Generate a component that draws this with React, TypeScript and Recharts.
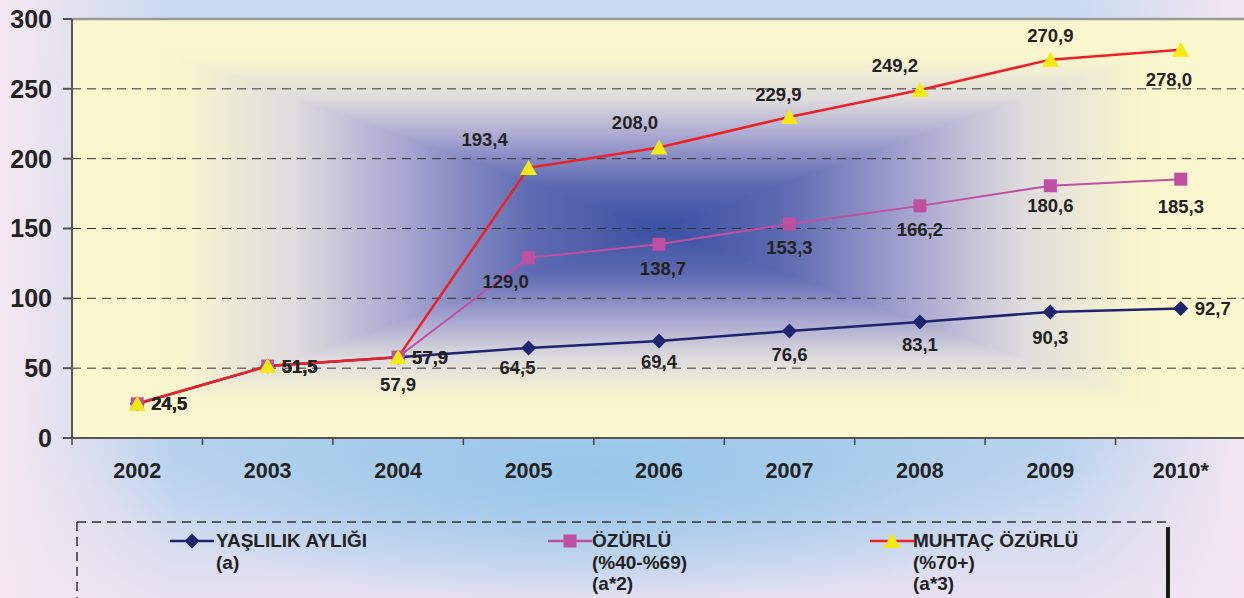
import { LineChart, Line, XAxis, YAxis, CartesianGrid, ReferenceLine, LabelList } from 'recharts';

const YEARS = ['2002', '2003', '2004', '2005', '2006', '2007', '2008', '2009', '2010*'];
const YASLILIK = [24.5, 51.5, 57.9, 64.5, 69.4, 76.6, 83.1, 90.3, 92.7];
const OZURLU = [24.5, 51.5, 57.9, 129.0, 138.7, 153.3, 166.2, 180.6, 185.3];
const MUHTAC = [24.5, 51.5, 57.9, 193.4, 208.0, 229.9, 249.2, 270.9, 278.0];
const Y_TICKS = [0, 50, 100, 150, 200, 250, 300];

// label placement per point: [dx, dy, anchor]
type Lbl = [number, number, 'start' | 'middle'];
const R: Lbl = [14, 0, 'start'];
const YASLILIK_LBL: Lbl[] = [R, R, R, [-11, 20, 'middle'], [0, 20, 'middle'], [0, 23, 'middle'], [0, 23, 'middle'], [0, 26, 'middle'], R];
const OZURLU_LBL: Lbl[] = [R, R, [0, 27, 'middle'], [-23, 24, 'middle'], [4, 24, 'middle'], [0, 24, 'middle'], [0, 24, 'middle'], [0, 20, 'middle'], [0, 27, 'middle']];
const MUHTAC_LBL: Lbl[] = [R, R, R, [-44, -28, 'middle'], [-24, -25, 'middle'], [-11, -22, 'middle'], [-25, -24, 'middle'], [0, -24, 'middle'], [-12, 30, 'middle']];

const data = YEARS.map((year, i) => ({ year, yaslilik: YASLILIK[i], ozurlu: OZURLU[i], muhtac: MUHTAC[i] }));

const CHART_W = 1246;
const CHART_H = 500;
const Y_AXIS_W = 72;
const X_AXIS_H = 62;
const TOP = 19;
const BAND = (CHART_W - Y_AXIS_W) / YEARS.length;

// plot rectangle (for the background fill)
const PL = Y_AXIS_W, PR = CHART_W, PT = TOP, PB = CHART_H - X_AXIS_H;
const CX = (PL + PR) / 2, CY = (PT + PB) / 2;

const NAVY = '#1f2470';
const MAGENTA = '#bf4fa3';
const RED = '#ee2027';
const YELLOW = '#f4e913';
const TEXT = '#222';
const FONT = "'Liberation Sans', Arial, sans-serif";
const NARROW = "'Liberation Sans Narrow', 'Arial Narrow', 'Liberation Sans', sans-serif";

const fmt = (v: number) => v.toFixed(1).replace('.', ',');

const makeLabel = (placement: Lbl[]) => (props: any) => {
  const { x, y, value, index } = props;
  const [dx, dy, anchor] = placement[index];
  return (
    <text x={x + dx} y={y + dy} textAnchor={anchor} dominantBaseline="central"
      fontFamily={FONT} fontWeight="bold" fontSize={18.5} fill={TEXT}>
      {fmt(value)}
    </text>
  );
};

const Diamond = ({ cx, cy }: any) => (
  <polygon points={`${cx},${cy - 7.5} ${cx + 7.5},${cy} ${cx},${cy + 7.5} ${cx - 7.5},${cy}`} fill={NAVY} />
);
const Square = ({ cx, cy }: any) => <rect x={cx - 6.5} y={cy - 6.5} width={13} height={13} fill={MAGENTA} />;
const Triangle = ({ cx, cy }: any) => (
  <polygon points={`${cx},${cy - 8} ${cx + 8.5},${cy + 7} ${cx - 8.5},${cy + 7}`} fill={YELLOW} />
);

const XTick = ({ x, y, payload, index }: any) => (
  <g>
    <line x1={x - BAND / 2} x2={x - BAND / 2} y1={y} y2={y + 7} stroke="#444" strokeWidth={1.5} />
    {index === YEARS.length - 1 && (
      <line x1={x + BAND / 2} x2={x + BAND / 2} y1={y} y2={y + 7} stroke="#444" strokeWidth={1.5} />
    )}
    <text x={x} y={y + 33} textAnchor="middle" dominantBaseline="central"
      fontFamily={NARROW} fontWeight="bold" fontSize={21.5} fill={TEXT}>
      {payload.value}
    </text>
  </g>
);

const legendText: React.CSSProperties = {
  position: 'absolute',
  fontFamily: NARROW,
  fontWeight: 'bold',
  fontSize: 19,
  lineHeight: '21.5px',
  color: TEXT,
  whiteSpace: 'nowrap',
};

function LegendIcon({ left, kind }: { left: number; kind: 'd' | 's' | 't' }) {
  const color = kind === 'd' ? NAVY : kind === 's' ? MAGENTA : RED;
  return (
    <svg width={44} height={20} style={{ position: 'absolute', left, top: 531 }}>
      <line x1={0} x2={44} y1={10} y2={10} stroke={color} strokeWidth={2.5} />
      {kind === 'd' && <Diamond cx={22} cy={10} />}
      {kind === 's' && <Square cx={22} cy={10} />}
      {kind === 't' && <Triangle cx={22} cy={10} />}
    </svg>
  );
}

const STOPS: [number, string][] = [
  [0, '#fbf8cf'],
  [0.18, '#f9f6cd'],
  [0.38, '#dedcdd'],
  [0.58, '#a3a2cf'],
  [0.78, '#5f6bb2'],
  [1, '#3a50a2'],
];

const Grad = ({ id, x1, y1, x2, y2 }: any) => (
  <linearGradient id={id} x1={x1} y1={y1} x2={x2} y2={y2}>
    {STOPS.map(([o, c]) => <stop key={o} offset={o} stopColor={c} />)}
  </linearGradient>
);

export default function App() {
  return (
    <div
      style={{
        position: 'relative',
        width: 1244,
        height: 598,
        overflow: 'hidden',
        background:
          'linear-gradient(to right, #f7e8f2 0%, rgba(247,232,242,0) 14%, rgba(247,232,242,0) 86%, #f5e6f2 100%),' +
          'radial-gradient(ellipse 40% 22% at 48% 79%, #98c6ea 0%, rgba(152,198,234,0.6) 50%, rgba(152,198,234,0) 100%),' +
          'linear-gradient(to bottom, #c8daf0 0%, #bcd4ee 75%, #e6e1f1 100%)',
      }}
    >
      <style>{'body{margin:0}'}</style>
      <svg width={0} height={0} style={{ position: 'absolute' }}>
        <defs>
          <Grad id="gTop" x1={0} y1={0} x2={0} y2={1} />
          <Grad id="gBottom" x1={0} y1={1} x2={0} y2={0} />
          <Grad id="gLeft" x1={0} y1={0} x2={1} y2={0} />
          <Grad id="gRight" x1={1} y1={0} x2={0} y2={0} />
          <pattern id="plotBg" patternUnits="userSpaceOnUse" x={0} y={0} width={CHART_W} height={CHART_H}>
            <polygon points={`${PL},${PT} ${PR},${PT} ${CX},${CY}`} fill="url(#gTop)" stroke="url(#gTop)" strokeWidth={1.5} />
            <polygon points={`${PL},${PB} ${PR},${PB} ${CX},${CY}`} fill="url(#gBottom)" stroke="url(#gBottom)" strokeWidth={1.5} />
            <polygon points={`${PL},${PT} ${PL},${PB} ${CX},${CY}`} fill="url(#gLeft)" stroke="url(#gLeft)" strokeWidth={1.5} />
            <polygon points={`${PR},${PT} ${PR},${PB} ${CX},${CY}`} fill="url(#gRight)" stroke="url(#gRight)" strokeWidth={1.5} />
          </pattern>
        </defs>
      </svg>

      <LineChart width={CHART_W} height={CHART_H} data={data} margin={{ top: TOP, right: 0, bottom: 0, left: 0 }}>
        <CartesianGrid vertical={false} stroke="#333" strokeDasharray="9 6" fill="url(#plotBg)" fillOpacity={1} />
        <ReferenceLine y={300} stroke="#9a9a9a" strokeWidth={2.5} />
        <XAxis
          dataKey="year"
          height={X_AXIS_H}
          padding={{ left: BAND / 2, right: BAND / 2 }}
          axisLine={{ stroke: '#555', strokeWidth: 2 }}
          tickLine={false}
          tickSize={0}
          tickMargin={0}
          tick={<XTick />}
          interval={0}
        />
        <YAxis
          width={Y_AXIS_W}
          domain={[0, 300]}
          ticks={Y_TICKS}
          axisLine={{ stroke: '#555', strokeWidth: 2 }}
          tickLine={{ stroke: '#555', strokeWidth: 2 }}
          tickSize={9}
          tickMargin={11}
          tick={{ fontFamily: FONT, fontWeight: 'bold', fontSize: 25, fill: TEXT }}
        />
        <Line type="linear" dataKey="yaslilik" stroke={NAVY} strokeWidth={2.5} isAnimationActive={false}
          dot={(p: any) => <Diamond key={`d${p.index}`} {...p} />} activeDot={false}>
          <LabelList dataKey="yaslilik" content={makeLabel(YASLILIK_LBL)} />
        </Line>
        <Line type="linear" dataKey="ozurlu" stroke={MAGENTA} strokeWidth={2} isAnimationActive={false}
          dot={(p: any) => <Square key={`s${p.index}`} {...p} />} activeDot={false}>
          <LabelList dataKey="ozurlu" content={makeLabel(OZURLU_LBL)} />
        </Line>
        <Line type="linear" dataKey="muhtac" stroke={RED} strokeWidth={2.5} isAnimationActive={false}
          dot={(p: any) => <Triangle key={`t${p.index}`} {...p} />} activeDot={false}>
          <LabelList dataKey="muhtac" content={makeLabel(MUHTAC_LBL)} />
        </Line>
      </LineChart>

      <svg width={1244} height={80} style={{ position: 'absolute', left: 0, top: 518 }}>
        <line x1={77} x2={1166} y1={4} y2={4} stroke="#333" strokeWidth={1.5} strokeDasharray="9 6" />
        <line x1={77} x2={77} y1={4} y2={80} stroke="#333" strokeWidth={1.5} strokeDasharray="9 6" />
        <line x1={1168} x2={1168} y1={9} y2={80} stroke="#1a1a1a" strokeWidth={4} />
      </svg>

      <LegendIcon left={170} kind="d" />
      <div style={{ ...legendText, left: 216, top: 530 }}>
        YAŞLILIK AYLIĞI<br />(a)
      </div>
      <LegendIcon left={548} kind="s" />
      <div style={{ ...legendText, left: 592, top: 530 }}>
        ÖZÜRLÜ<br />(%40-%69)<br />(a*2)
      </div>
      <LegendIcon left={870} kind="t" />
      <div style={{ ...legendText, left: 913, top: 530 }}>
        MUHTAÇ ÖZÜRLÜ<br />(%70+)<br />(a*3)
      </div>
    </div>
  );
}
